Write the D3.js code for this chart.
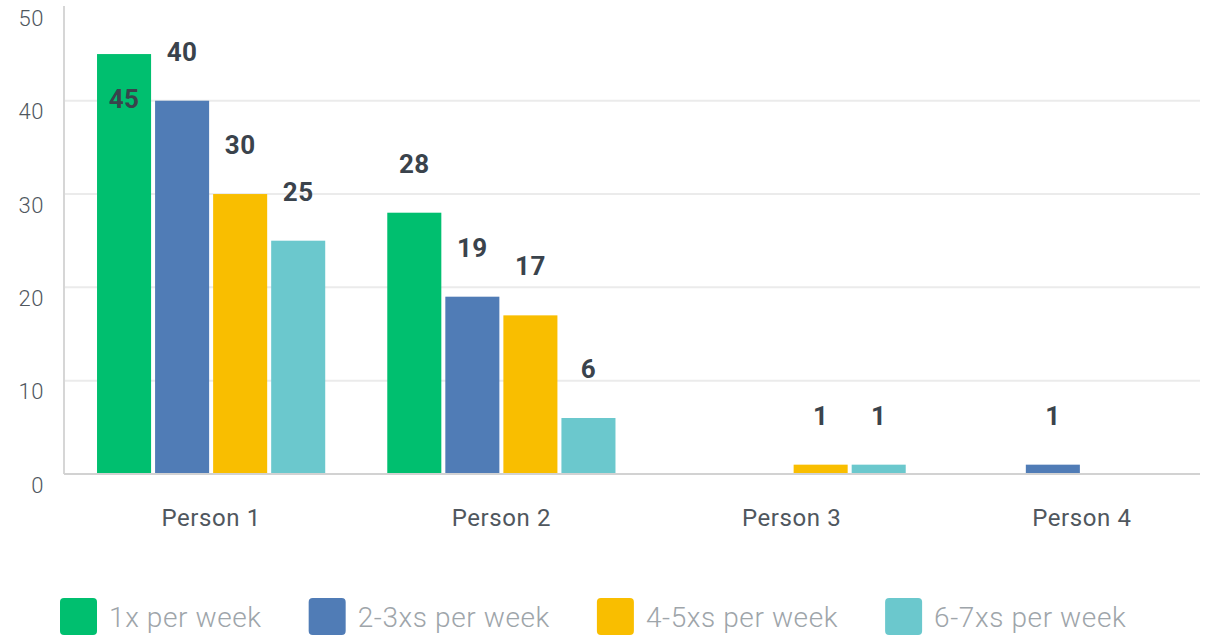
<!DOCTYPE html>
<html>
<head>
<meta charset="utf-8">
<script src="https://cdn.jsdelivr.net/npm/d3@7"></script>
<style>
	body { margin: 0; background: #fff; }
	text { font-family: Roboto, "Noto Sans", sans-serif; }
</style>
</head>
<body>
<main></main>
<script>
const persons = ["Person 1", "Person 2", "Person 3", "Person 4"];
const series = ["1x per week", "2-3xs per week", "4-5xs per week", "6-7xs per week"];
const colors = ["#00bf6f", "#507cb6", "#f9be00", "#6bc8cd"];
const once = [45, 28, 0, 0];
const twoThree = [40, 19, 0, 1];
const fourFive = [30, 17, 1, 0];
const sixSeven = [25, 6, 1, 0];
const yTicks = [0, 10, 20, 30, 40, 50];

const values = [once, twoThree, fourFive, sixSeven];

const w = 1214, h = 636;
const plotLeft = 64, plotRight = 1200, plotTop = 7.4, plotBottom = 474;

const svg = d3.select("main").append("svg")
	.attr("width", w)
	.attr("height", h);

const yScale = d3.scaleLinear().domain([0, 50]).range([plotBottom, plotTop]);

const x0 = d3.scaleBand()
	.domain(persons)
	.range([66, 1227])
	.paddingInner(0.2138)
	.paddingOuter(0.1069);

const x1 = d3.scaleBand()
	.domain(series)
	.range([0, x0.bandwidth()])
	.paddingInner(0.069)
	.paddingOuter(0);

const color = d3.scaleOrdinal().domain(series).range(colors);

// gridlines
svg.append("g")
	.selectAll("line")
	.data(yTicks.filter(d => d > 0 && d < 50))
	.enter().append("line")
	.attr("x1", plotLeft).attr("x2", plotRight)
	.attr("y1", d => yScale(d)).attr("y2", d => yScale(d))
	.attr("stroke", "#ebebeb")
	.attr("stroke-width", 2);

// y tick labels (sit a bit under their lines)
svg.append("g")
	.selectAll("text")
	.data(yTicks)
	.enter().append("text")
	.attr("x", 44)
	.attr("y", d => yScale(d) + 11)
	.attr("dy", "0.35em")
	.attr("text-anchor", "end")
	.attr("fill", "#50575e")
	.style("font-size", "22px")
	.style("font-weight", 300)
	.style("letter-spacing", "0.5px")
	.text(d => d);

// bars
const rows = [];
persons.forEach((p, i) => {
	series.forEach((s, j) => rows.push({ person: p, key: s, value: values[j][i] }));
});

svg.append("g")
	.selectAll("rect")
	.data(rows.filter(d => d.value > 0))
	.enter().append("rect")
	.attr("x", d => x0(d.person) + x1(d.key))
	.attr("y", d => yScale(d.value))
	.attr("width", x1.bandwidth())
	.attr("height", d => plotBottom - yScale(d.value))
	.attr("fill", d => color(d.key));

// value labels
svg.append("g")
	.selectAll("text")
	.data(rows.filter(d => d.value > 0))
	.enter().append("text")
	.attr("x", d => x0(d.person) + x1(d.key) + x1.bandwidth() / 2)
	.attr("y", d => {
		const yy = yScale(d.value) - 49;
		return yy < 30 ? yScale(d.value) + 45 : yy;
	})
	.attr("dy", "0.35em")
	.attr("text-anchor", "middle")
	.attr("fill", "#3a434c")
	.style("font-size", "26px")
	.style("font-weight", 700)
	.style("letter-spacing", "0.5px")
	.text(d => d.value);

// axes lines
svg.append("line")
	.attr("x1", plotLeft).attr("x2", plotLeft)
	.attr("y1", 6).attr("y2", plotBottom)
	.attr("stroke", "#d6d6d6").attr("stroke-width", 2);
svg.append("line")
	.attr("x1", plotLeft).attr("x2", plotRight)
	.attr("y1", plotBottom).attr("y2", plotBottom)
	.attr("stroke", "#d2d2d2").attr("stroke-width", 2);

// x labels
svg.append("g")
	.selectAll("text")
	.data(persons)
	.enter().append("text")
	.attr("x", d => x0(d) + x0.bandwidth() / 2)
	.attr("y", 518)
	.attr("dy", "0.35em")
	.attr("text-anchor", "middle")
	.attr("fill", "#50575e")
	.style("font-size", "24px")
	.style("letter-spacing", "0.6px")
	.text(d => d);

// legend
const legend = svg.append("g");
let lx = 60;
series.forEach((s, i) => {
	legend.append("rect")
		.attr("x", lx).attr("y", 598)
		.attr("width", 37).attr("height", 37)
		.attr("rx", 4)
		.attr("fill", colors[i]);
	const t = legend.append("text")
		.attr("x", lx + 49)
		.attr("y", 617)
		.attr("dy", "0.35em")
		.attr("fill", "#9ea5aa")
		.style("font-size", "28px")
		.style("font-weight", 300)
		.style("letter-spacing", "0.6px")
		.text(s);
	lx += 49 + t.node().getComputedTextLength() + 47;
});
</script>
</body>
</html>
